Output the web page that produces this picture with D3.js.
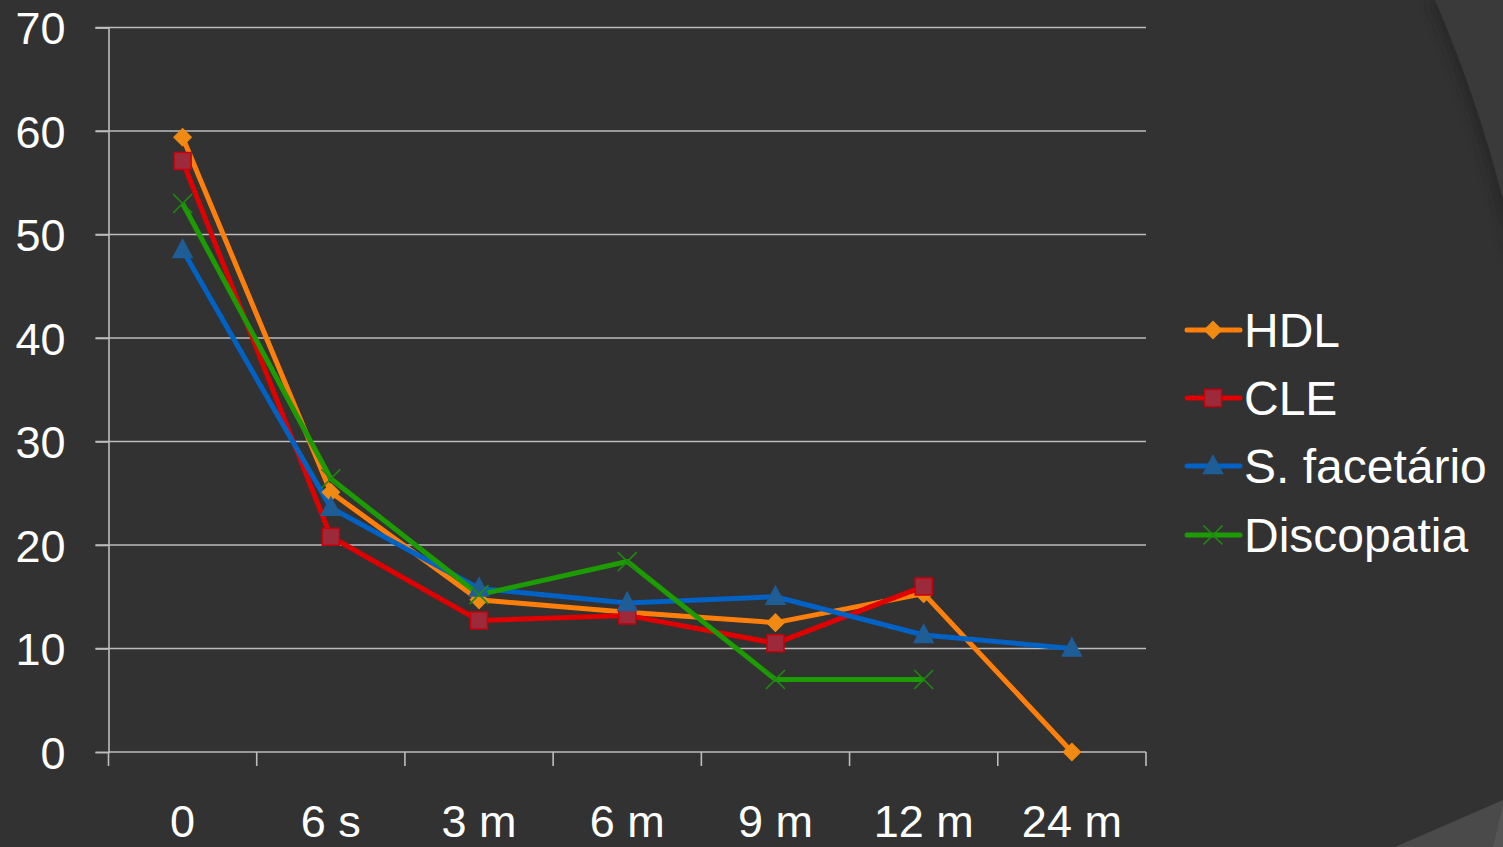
<!DOCTYPE html>
<html>
<head>
<meta charset="utf-8">
<script src="https://cdn.jsdelivr.net/npm/d3@7"></script>
<style>
  html, body { margin: 0; padding: 0; background: #323232; }
  svg { display: block; }
  text { font-family: "Liberation Sans", Arial, sans-serif; fill: #ffffff; }
</style>
</head>
<body>
<svg id="chart" width="1503" height="847"></svg>
<script>
// Follow-up time points
const categories = ["0", "6 s", "3 m", "6 m", "9 m", "12 m", "24 m"];
const yTicks = [0, 10, 20, 30, 40, 50, 60, 70];

// Series values per time point (null = no measurement)
const hdl        = [59.4, 25.1, 14.7, 13.5, 12.5, 15.3, 0];
const cle        = [57.1, 20.8, 12.7, 13.2, 10.5, 16.0, null];
const sFacetario = [48.5, 23.6, 15.8, 14.4, 15.0, 11.3, 10.0];
const discopatia = [53.0, 26.4, 15.2, 18.4, 7.0, 7.0, null];

const seriesNames = ["HDL", "CLE", "S. facetário", "Discopatia"];

const series = [
  { name: seriesNames[0], values: hdl,        line: "#ff7f0a", fill: "#f18a12", stroke: "#f18a12", marker: "diamond" },
  { name: seriesNames[1], values: cle,        line: "#e00000", fill: "#9d2a3b", stroke: "#c8000a", marker: "square" },
  { name: seriesNames[2], values: sFacetario, line: "#0062c4", fill: "#1f5d96", stroke: "#1f5d96", marker: "triangle" },
  { name: seriesNames[3], values: discopatia, line: "#1c9c00", fill: "none",    stroke: "#1e8a10", marker: "cross" }
];

const svg = d3.select("#chart");

// Background decoration
svg.append("rect").attr("width", 1503).attr("height", 847).attr("fill", "#323232");
const defs = svg.append("defs");
const blur = defs.append("filter").attr("id", "soft").attr("x", "-50%").attr("y", "-50%").attr("width", "200%").attr("height", "200%");
blur.append("feGaussianBlur").attr("stdDeviation", 6);
svg.append("path")
  .attr("d", "M1428,0 Q1480,120 1510,260 L1510,0 Z")
  .attr("fill", "#1c1c1c").attr("opacity", 0.45).attr("filter", "url(#soft)");
svg.append("path")
  .attr("d", "M1435,0 Q1478,100 1503,200 L1503,0 Z")
  .attr("fill", "#3a3a3a");
svg.append("path")
  .attr("d", "M1395,847 L1503,800 L1503,847 Z")
  .attr("fill", "#4a4a4a");
svg.append("path")
  .attr("d", "M1493,847 L1503,805 L1503,847 Z")
  .attr("fill", "#555555");

const plotLeft = 108.5, plotRight = 1146, plotTop = 27.5, plotBottom = 752;

const x = d3.scaleBand().domain(categories).range([plotLeft, plotRight]).paddingInner(0).paddingOuter(0);
const y = d3.scaleLinear().domain([0, 70]).range([plotBottom, plotTop]);

const gridColor = "#bdbdbd";

// Horizontal gridlines
svg.append("g")
  .selectAll("line")
  .data(yTicks.filter(d => d > 0))
  .join("line")
  .attr("x1", plotLeft - 13).attr("x2", plotRight)
  .attr("y1", d => y(d)).attr("y2", d => y(d))
  .attr("stroke", gridColor).attr("stroke-width", 1.6);

// Y axis
const yAxis = svg.append("g")
  .attr("transform", `translate(${plotLeft},0)`)
  .call(d3.axisLeft(y).tickValues(yTicks).tickSize(13).tickPadding(30).tickFormat(d3.format("d")));
yAxis.select(".domain").attr("stroke", gridColor).attr("stroke-width", 1.6);
yAxis.selectAll(".tick line").attr("stroke", gridColor).attr("stroke-width", 1.6);
yAxis.selectAll(".tick text")
  .attr("fill", "#ffffff").attr("font-size", 45).attr("dy", "0.36em")
  .style("font-family", "'Liberation Sans', Arial, sans-serif");

// X axis with ticks on band boundaries
const xAxisG = svg.append("g").attr("transform", `translate(0,${plotBottom})`);
xAxisG.append("line")
  .attr("x1", plotLeft).attr("x2", plotRight).attr("y1", 0).attr("y2", 0)
  .attr("stroke", gridColor).attr("stroke-width", 1.6);
const boundaries = categories.map(c => x(c)).concat([plotRight]);
xAxisG.selectAll("line.tk")
  .data(boundaries)
  .join("line").attr("class", "tk")
  .attr("x1", d => d).attr("x2", d => d).attr("y1", 0).attr("y2", 14)
  .attr("stroke", gridColor).attr("stroke-width", 1.6);
xAxisG.selectAll("text")
  .data(categories)
  .join("text")
  .attr("x", d => x(d) + x.bandwidth() / 2)
  .attr("y", 85)
  .attr("text-anchor", "middle")
  .attr("font-size", 45)
  .text(d => d);

// Marker shapes
function markerPath(type, s) {
  const h = s / 2;
  switch (type) {
    case "diamond": return `M0,${-h} L${h},0 L0,${h} L${-h},0 Z`;
    case "square": return `M${-h},${-h} H${h} V${h} H${-h} Z`;
    case "triangle": return `M0,${-h - 2} L${h + 1},${h - 1} L${-h - 1},${h - 1} Z`;
    case "cross": return `M${-h},${-h} L${h},${h} M${h},${-h} L${-h},${h}`;
  }
}

const line = d3.line()
  .defined(d => d.v !== null)
  .x(d => x(d.c) + x.bandwidth() / 2)
  .y(d => y(d.v));

const plot = svg.append("g");
series.forEach(s => {
  const pts = s.values.map((v, i) => ({ c: categories[i], v }));
  plot.append("path")
    .datum(pts)
    .attr("d", line)
    .attr("fill", "none")
    .attr("stroke", s.line)
    .attr("stroke-width", 5)
    .attr("stroke-linejoin", "round");
});
series.forEach(s => {
  const pts = s.values.map((v, i) => ({ c: categories[i], v })).filter(d => d.v !== null);
  plot.append("g").selectAll("path")
    .data(pts)
    .join("path")
    .attr("transform", d => `translate(${x(d.c) + x.bandwidth() / 2},${y(d.v)})`)
    .attr("d", markerPath(s.marker, s.marker === "cross" ? 19 : 17))
    .attr("fill", s.fill)
    .attr("stroke", s.stroke)
    .attr("stroke-width", s.marker === "cross" ? 1.6 : 1.5);
});

// Legend
const legend = svg.append("g");
const legendY = [330, 398, 466, 535];
series.forEach((s, i) => {
  const g = legend.append("g").attr("transform", `translate(0,${legendY[i]})`);
  g.append("line").attr("x1", 1187).attr("x2", 1240).attr("y1", 0).attr("y2", 0)
    .attr("stroke", s.line).attr("stroke-width", 5).attr("stroke-linecap", "round");
  g.append("path").attr("transform", "translate(1213,0)")
    .attr("d", markerPath(s.marker, s.marker === "cross" ? 19 : 17))
    .attr("fill", s.fill).attr("stroke", s.stroke)
    .attr("stroke-width", s.marker === "cross" ? 1.6 : 1.5);
  g.append("text").attr("x", 1244).attr("y", 0).attr("dy", "0.36em")
    .attr("font-size", 48).text(s.name);
});
</script>
</body>
</html>
